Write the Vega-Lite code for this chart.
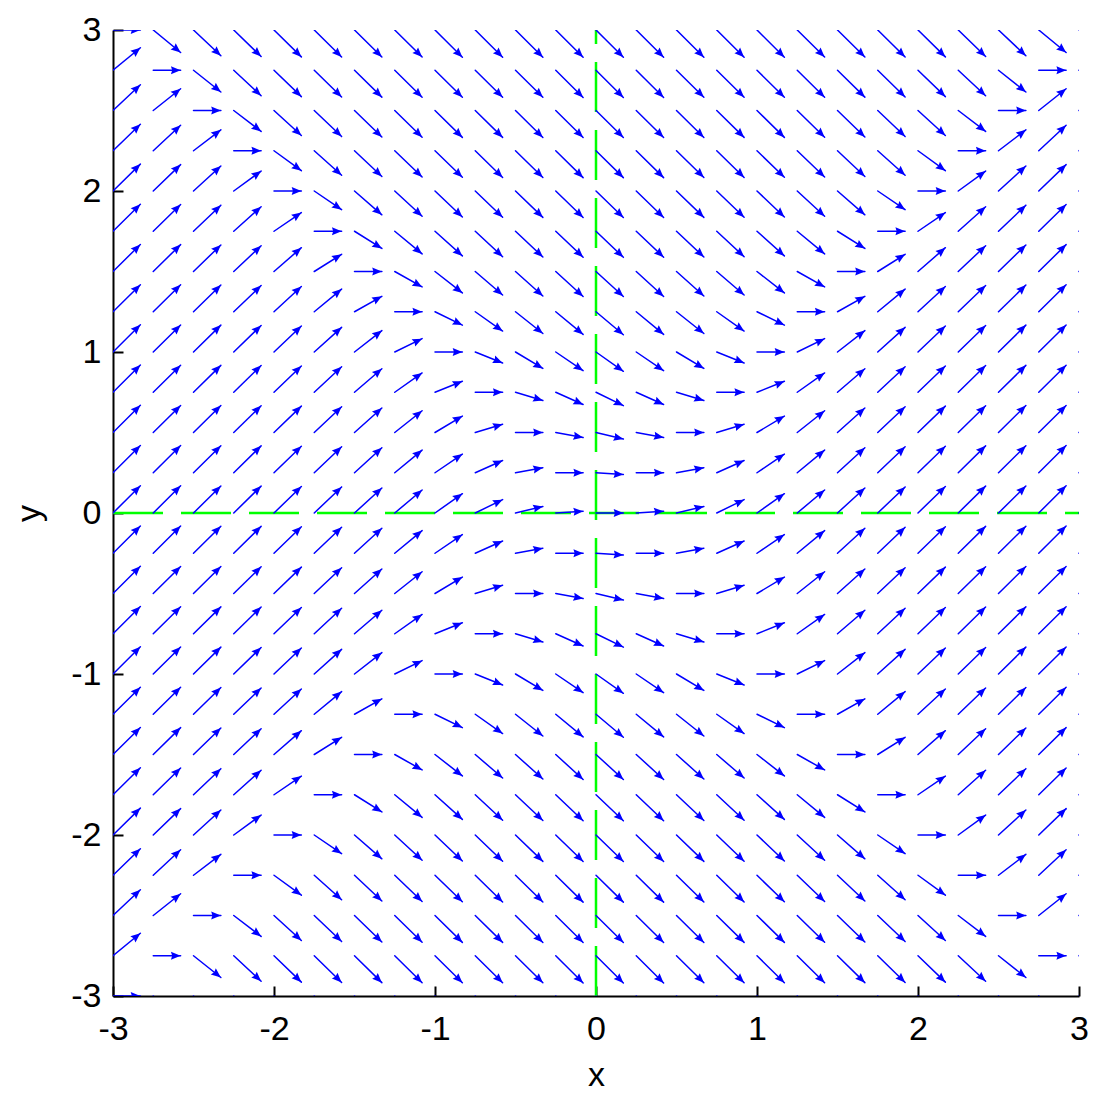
{
"$schema":"https://vega.github.io/schema/vega-lite/v6.json",
"width":966,"height":966,
"autosize":"none",
"padding":{"left":113,"top":30,"right":14,"bottom":98},
"background":"white",
"config":{"view":{"stroke":null},
"axis":{"domainColor":"#000","domainWidth":2,"tickColor":"#000","tickWidth":2,"tickSize":-10,"labelFont":"Liberation Sans","labelFontSize":34,"labelColor":"#000","labelFlush":false,"labelOverlap":false,"grid":false,"titleFont":"Liberation Sans","titleFontSize":34,"titleFontWeight":"normal","titleColor":"#000"},
"axisX":{"labelPadding":26,"titlePadding":12},
"axisY":{"labelPadding":22,"titlePadding":24}},
"data":{"values":[
{"x":-3,"y":3,"u":-2.83,"v":3,"d":0},{"x":-2.75,"y":3,"u":-2.58,"v":2.86,"d":-39.4},{"x":-2.5,"y":3,"u":-2.33,"v":2.84,"d":-43.2},{"x":-2.25,"y":3,"u":-2.08,"v":2.835,"d":-44.1},{"x":-2,"y":3,"u":-1.83,"v":2.833,"d":-44.4},{"x":-1.75,"y":3,"u":-1.58,"v":2.832,"d":-44.6},{"x":-1.5,"y":3,"u":-1.33,"v":2.832,"d":-44.7},{"x":-1.25,"y":3,"u":-1.08,"v":2.832,"d":-44.7},{"x":-1,"y":3,"u":-0.83,"v":2.831,"d":-44.8},{"x":-0.75,"y":3,"u":-0.58,"v":2.831,"d":-44.8},{"x":-0.5,"y":3,"u":-0.33,"v":2.831,"d":-44.8},{"x":-0.25,"y":3,"u":-0.08,"v":2.831,"d":-44.8},{"x":0,"y":3,"u":0.17,"v":2.831,"d":-44.8},{"x":0.25,"y":3,"u":0.42,"v":2.831,"d":-44.8},{"x":0.5,"y":3,"u":0.67,"v":2.831,"d":-44.8},{"x":0.75,"y":3,"u":0.92,"v":2.831,"d":-44.8},{"x":1,"y":3,"u":1.17,"v":2.831,"d":-44.8},{"x":1.25,"y":3,"u":1.42,"v":2.832,"d":-44.7},{"x":1.5,"y":3,"u":1.67,"v":2.832,"d":-44.7},{"x":1.75,"y":3,"u":1.92,"v":2.832,"d":-44.6},{"x":2,"y":3,"u":2.17,"v":2.833,"d":-44.4},{"x":2.25,"y":3,"u":2.42,"v":2.835,"d":-44.1},{"x":2.5,"y":3,"u":2.67,"v":2.84,"d":-43.2},{"x":2.75,"y":3,"u":2.92,"v":2.86,"d":-39.4},{"x":3,"y":3,"u":3.17,"v":3,"d":0},
{"x":-3,"y":2.75,"u":-2.83,"v":2.89,"d":39.4},{"x":-2.75,"y":2.75,"u":-2.58,"v":2.75,"d":0},{"x":-2.5,"y":2.75,"u":-2.33,"v":2.615,"d":-38.5},{"x":-2.25,"y":2.75,"u":-2.08,"v":2.592,"d":-42.9},{"x":-2,"y":2.75,"u":-1.83,"v":2.586,"d":-43.9},{"x":-1.75,"y":2.75,"u":-1.58,"v":2.584,"d":-44.3},{"x":-1.5,"y":2.75,"u":-1.33,"v":2.583,"d":-44.5},{"x":-1.25,"y":2.75,"u":-1.08,"v":2.582,"d":-44.6},{"x":-1,"y":2.75,"u":-0.83,"v":2.582,"d":-44.7},{"x":-0.75,"y":2.75,"u":-0.58,"v":2.582,"d":-44.7},{"x":-0.5,"y":2.75,"u":-0.33,"v":2.582,"d":-44.7},{"x":-0.25,"y":2.75,"u":-0.08,"v":2.581,"d":-44.7},{"x":0,"y":2.75,"u":0.17,"v":2.581,"d":-44.8},{"x":0.25,"y":2.75,"u":0.42,"v":2.581,"d":-44.7},{"x":0.5,"y":2.75,"u":0.67,"v":2.582,"d":-44.7},{"x":0.75,"y":2.75,"u":0.92,"v":2.582,"d":-44.7},{"x":1,"y":2.75,"u":1.17,"v":2.582,"d":-44.7},{"x":1.25,"y":2.75,"u":1.42,"v":2.582,"d":-44.6},{"x":1.5,"y":2.75,"u":1.67,"v":2.583,"d":-44.5},{"x":1.75,"y":2.75,"u":1.92,"v":2.584,"d":-44.3},{"x":2,"y":2.75,"u":2.17,"v":2.586,"d":-43.9},{"x":2.25,"y":2.75,"u":2.42,"v":2.592,"d":-42.9},{"x":2.5,"y":2.75,"u":2.67,"v":2.615,"d":-38.5},{"x":2.75,"y":2.75,"u":2.92,"v":2.75,"d":0},{"x":3,"y":2.75,"u":3.17,"v":2.89,"d":39.4},
{"x":-3,"y":2.5,"u":-2.83,"v":2.66,"d":43.2},{"x":-2.75,"y":2.5,"u":-2.58,"v":2.635,"d":38.5},{"x":-2.5,"y":2.5,"u":-2.33,"v":2.5,"d":0},{"x":-2.25,"y":2.5,"u":-2.08,"v":2.37,"d":-37.4},{"x":-2,"y":2.5,"u":-1.83,"v":2.345,"d":-42.4},{"x":-1.75,"y":2.5,"u":-1.58,"v":2.338,"d":-43.7},{"x":-1.5,"y":2.5,"u":-1.33,"v":2.335,"d":-44.1},{"x":-1.25,"y":2.5,"u":-1.08,"v":2.334,"d":-44.4},{"x":-1,"y":2.5,"u":-0.83,"v":2.333,"d":-44.5},{"x":-0.75,"y":2.5,"u":-0.58,"v":2.333,"d":-44.6},{"x":-0.5,"y":2.5,"u":-0.33,"v":2.332,"d":-44.6},{"x":-0.25,"y":2.5,"u":-0.08,"v":2.332,"d":-44.6},{"x":0,"y":2.5,"u":0.17,"v":2.332,"d":-44.6},{"x":0.25,"y":2.5,"u":0.42,"v":2.332,"d":-44.6},{"x":0.5,"y":2.5,"u":0.67,"v":2.332,"d":-44.6},{"x":0.75,"y":2.5,"u":0.92,"v":2.333,"d":-44.6},{"x":1,"y":2.5,"u":1.17,"v":2.333,"d":-44.5},{"x":1.25,"y":2.5,"u":1.42,"v":2.334,"d":-44.4},{"x":1.5,"y":2.5,"u":1.67,"v":2.335,"d":-44.1},{"x":1.75,"y":2.5,"u":1.92,"v":2.338,"d":-43.7},{"x":2,"y":2.5,"u":2.17,"v":2.345,"d":-42.4},{"x":2.25,"y":2.5,"u":2.42,"v":2.37,"d":-37.4},{"x":2.5,"y":2.5,"u":2.67,"v":2.5,"d":0},{"x":2.75,"y":2.5,"u":2.92,"v":2.635,"d":38.5},{"x":3,"y":2.5,"u":3.17,"v":2.66,"d":43.2},
{"x":-3,"y":2.25,"u":-2.83,"v":2.415,"d":44.1},{"x":-2.75,"y":2.25,"u":-2.58,"v":2.408,"d":42.9},{"x":-2.5,"y":2.25,"u":-2.33,"v":2.38,"d":37.4},{"x":-2.25,"y":2.25,"u":-2.08,"v":2.25,"d":0},{"x":-2,"y":2.25,"u":-1.83,"v":2.126,"d":-36.1},{"x":-1.75,"y":2.25,"u":-1.58,"v":2.098,"d":-41.8},{"x":-1.5,"y":2.25,"u":-1.33,"v":2.09,"d":-43.3},{"x":-1.25,"y":2.25,"u":-1.08,"v":2.087,"d":-43.9},{"x":-1,"y":2.25,"u":-0.83,"v":2.085,"d":-44.2},{"x":-0.75,"y":2.25,"u":-0.58,"v":2.084,"d":-44.3},{"x":-0.5,"y":2.25,"u":-0.33,"v":2.084,"d":-44.4},{"x":-0.25,"y":2.25,"u":-0.08,"v":2.083,"d":-44.4},{"x":0,"y":2.25,"u":0.17,"v":2.083,"d":-44.5},{"x":0.25,"y":2.25,"u":0.42,"v":2.083,"d":-44.4},{"x":0.5,"y":2.25,"u":0.67,"v":2.084,"d":-44.4},{"x":0.75,"y":2.25,"u":0.92,"v":2.084,"d":-44.3},{"x":1,"y":2.25,"u":1.17,"v":2.085,"d":-44.2},{"x":1.25,"y":2.25,"u":1.42,"v":2.087,"d":-43.9},{"x":1.5,"y":2.25,"u":1.67,"v":2.09,"d":-43.3},{"x":1.75,"y":2.25,"u":1.92,"v":2.098,"d":-41.8},{"x":2,"y":2.25,"u":2.17,"v":2.126,"d":-36.1},{"x":2.25,"y":2.25,"u":2.42,"v":2.25,"d":0},{"x":2.5,"y":2.25,"u":2.67,"v":2.38,"d":37.4},{"x":2.75,"y":2.25,"u":2.92,"v":2.408,"d":42.9},{"x":3,"y":2.25,"u":3.17,"v":2.415,"d":44.1},
{"x":-3,"y":2,"u":-2.83,"v":2.167,"d":44.4},{"x":-2.75,"y":2,"u":-2.58,"v":2.164,"d":43.9},{"x":-2.5,"y":2,"u":-2.33,"v":2.155,"d":42.4},{"x":-2.25,"y":2,"u":-2.08,"v":2.124,"d":36.1},{"x":-2,"y":2,"u":-1.83,"v":2,"d":0},{"x":-1.75,"y":2,"u":-1.58,"v":1.884,"d":-34.4},{"x":-1.5,"y":2,"u":-1.33,"v":1.852,"d":-41},{"x":-1.25,"y":2,"u":-1.08,"v":1.843,"d":-42.8},{"x":-1,"y":2,"u":-0.83,"v":1.839,"d":-43.5},{"x":-0.75,"y":2,"u":-0.58,"v":1.837,"d":-43.8},{"x":-0.5,"y":2,"u":-0.33,"v":1.836,"d":-44},{"x":-0.25,"y":2,"u":-0.08,"v":1.835,"d":-44.1},{"x":0,"y":2,"u":0.17,"v":1.835,"d":-44.1},{"x":0.25,"y":2,"u":0.42,"v":1.835,"d":-44.1},{"x":0.5,"y":2,"u":0.67,"v":1.836,"d":-44},{"x":0.75,"y":2,"u":0.92,"v":1.837,"d":-43.8},{"x":1,"y":2,"u":1.17,"v":1.839,"d":-43.5},{"x":1.25,"y":2,"u":1.42,"v":1.843,"d":-42.8},{"x":1.5,"y":2,"u":1.67,"v":1.852,"d":-41},{"x":1.75,"y":2,"u":1.92,"v":1.884,"d":-34.4},{"x":2,"y":2,"u":2.17,"v":2,"d":0},{"x":2.25,"y":2,"u":2.42,"v":2.124,"d":36.1},{"x":2.5,"y":2,"u":2.67,"v":2.155,"d":42.4},{"x":2.75,"y":2,"u":2.92,"v":2.164,"d":43.9},{"x":3,"y":2,"u":3.17,"v":2.167,"d":44.4},
{"x":-3,"y":1.75,"u":-2.83,"v":1.918,"d":44.6},{"x":-2.75,"y":1.75,"u":-2.58,"v":1.916,"d":44.3},{"x":-2.5,"y":1.75,"u":-2.33,"v":1.912,"d":43.7},{"x":-2.25,"y":1.75,"u":-2.08,"v":1.902,"d":41.8},{"x":-2,"y":1.75,"u":-1.83,"v":1.866,"d":34.4},{"x":-1.75,"y":1.75,"u":-1.58,"v":1.75,"d":0},{"x":-1.5,"y":1.75,"u":-1.33,"v":1.643,"d":-32.2},{"x":-1.25,"y":1.75,"u":-1.08,"v":1.609,"d":-39.8},{"x":-1,"y":1.75,"u":-0.83,"v":1.597,"d":-42},{"x":-0.75,"y":1.75,"u":-0.58,"v":1.592,"d":-42.9},{"x":-0.5,"y":1.75,"u":-0.33,"v":1.59,"d":-43.3},{"x":-0.25,"y":1.75,"u":-0.08,"v":1.589,"d":-43.5},{"x":0,"y":1.75,"u":0.17,"v":1.588,"d":-43.5},{"x":0.25,"y":1.75,"u":0.42,"v":1.589,"d":-43.5},{"x":0.5,"y":1.75,"u":0.67,"v":1.59,"d":-43.3},{"x":0.75,"y":1.75,"u":0.92,"v":1.592,"d":-42.9},{"x":1,"y":1.75,"u":1.17,"v":1.597,"d":-42},{"x":1.25,"y":1.75,"u":1.42,"v":1.609,"d":-39.8},{"x":1.5,"y":1.75,"u":1.67,"v":1.643,"d":-32.2},{"x":1.75,"y":1.75,"u":1.92,"v":1.75,"d":0},{"x":2,"y":1.75,"u":2.17,"v":1.866,"d":34.4},{"x":2.25,"y":1.75,"u":2.42,"v":1.902,"d":41.8},{"x":2.5,"y":1.75,"u":2.67,"v":1.912,"d":43.7},{"x":2.75,"y":1.75,"u":2.92,"v":1.916,"d":44.3},{"x":3,"y":1.75,"u":3.17,"v":1.918,"d":44.6},
{"x":-3,"y":1.5,"u":-2.83,"v":1.668,"d":44.7},{"x":-2.75,"y":1.5,"u":-2.58,"v":1.667,"d":44.5},{"x":-2.5,"y":1.5,"u":-2.33,"v":1.665,"d":44.1},{"x":-2.25,"y":1.5,"u":-2.08,"v":1.66,"d":43.3},{"x":-2,"y":1.5,"u":-1.83,"v":1.648,"d":41},{"x":-1.75,"y":1.5,"u":-1.58,"v":1.607,"d":32.2},{"x":-1.5,"y":1.5,"u":-1.33,"v":1.5,"d":0},{"x":-1.25,"y":1.5,"u":-1.08,"v":1.404,"d":-29.5},{"x":-1,"y":1.5,"u":-0.83,"v":1.367,"d":-38},{"x":-0.75,"y":1.5,"u":-0.58,"v":1.354,"d":-40.7},{"x":-0.5,"y":1.5,"u":-0.33,"v":1.348,"d":-41.8},{"x":-0.25,"y":1.5,"u":-0.08,"v":1.345,"d":-42.3},{"x":0,"y":1.5,"u":0.17,"v":1.345,"d":-42.4},{"x":0.25,"y":1.5,"u":0.42,"v":1.345,"d":-42.3},{"x":0.5,"y":1.5,"u":0.67,"v":1.348,"d":-41.8},{"x":0.75,"y":1.5,"u":0.92,"v":1.354,"d":-40.7},{"x":1,"y":1.5,"u":1.17,"v":1.367,"d":-38},{"x":1.25,"y":1.5,"u":1.42,"v":1.404,"d":-29.5},{"x":1.5,"y":1.5,"u":1.67,"v":1.5,"d":0},{"x":1.75,"y":1.5,"u":1.92,"v":1.607,"d":32.2},{"x":2,"y":1.5,"u":2.17,"v":1.648,"d":41},{"x":2.25,"y":1.5,"u":2.42,"v":1.66,"d":43.3},{"x":2.5,"y":1.5,"u":2.67,"v":1.665,"d":44.1},{"x":2.75,"y":1.5,"u":2.92,"v":1.667,"d":44.5},{"x":3,"y":1.5,"u":3.17,"v":1.668,"d":44.7},
{"x":-3,"y":1.25,"u":-2.83,"v":1.418,"d":44.7},{"x":-2.75,"y":1.25,"u":-2.58,"v":1.418,"d":44.6},{"x":-2.5,"y":1.25,"u":-2.33,"v":1.416,"d":44.4},{"x":-2.25,"y":1.25,"u":-2.08,"v":1.413,"d":43.9},{"x":-2,"y":1.25,"u":-1.83,"v":1.407,"d":42.8},{"x":-1.75,"y":1.25,"u":-1.58,"v":1.391,"d":39.8},{"x":-1.5,"y":1.25,"u":-1.33,"v":1.346,"d":29.5},{"x":-1.25,"y":1.25,"u":-1.08,"v":1.25,"d":0},{"x":-1,"y":1.25,"u":-0.83,"v":1.167,"d":-26.1},{"x":-0.75,"y":1.25,"u":-0.58,"v":1.13,"d":-35.3},{"x":-0.5,"y":1.25,"u":-0.33,"v":1.115,"d":-38.5},{"x":-0.25,"y":1.25,"u":-0.08,"v":1.109,"d":-39.8},{"x":0,"y":1.25,"u":0.17,"v":1.107,"d":-40.1},{"x":0.25,"y":1.25,"u":0.42,"v":1.109,"d":-39.8},{"x":0.5,"y":1.25,"u":0.67,"v":1.115,"d":-38.5},{"x":0.75,"y":1.25,"u":0.92,"v":1.13,"d":-35.3},{"x":1,"y":1.25,"u":1.17,"v":1.167,"d":-26.1},{"x":1.25,"y":1.25,"u":1.42,"v":1.25,"d":0},{"x":1.5,"y":1.25,"u":1.67,"v":1.346,"d":29.5},{"x":1.75,"y":1.25,"u":1.92,"v":1.391,"d":39.8},{"x":2,"y":1.25,"u":2.17,"v":1.407,"d":42.8},{"x":2.25,"y":1.25,"u":2.42,"v":1.413,"d":43.9},{"x":2.5,"y":1.25,"u":2.67,"v":1.416,"d":44.4},{"x":2.75,"y":1.25,"u":2.92,"v":1.418,"d":44.6},{"x":3,"y":1.25,"u":3.17,"v":1.418,"d":44.7},
{"x":-3,"y":1,"u":-2.83,"v":1.169,"d":44.8},{"x":-2.75,"y":1,"u":-2.58,"v":1.168,"d":44.7},{"x":-2.5,"y":1,"u":-2.33,"v":1.167,"d":44.5},{"x":-2.25,"y":1,"u":-2.08,"v":1.165,"d":44.2},{"x":-2,"y":1,"u":-1.83,"v":1.161,"d":43.5},{"x":-1.75,"y":1,"u":-1.58,"v":1.153,"d":42},{"x":-1.5,"y":1,"u":-1.33,"v":1.133,"d":38},{"x":-1.25,"y":1,"u":-1.08,"v":1.083,"d":26.1},{"x":-1,"y":1,"u":-0.83,"v":1,"d":0},{"x":-0.75,"y":1,"u":-0.58,"v":0.932,"d":-21.8},{"x":-0.5,"y":1,"u":-0.33,"v":0.898,"d":-31},{"x":-0.25,"y":1,"u":-0.08,"v":0.884,"d":-34.4},{"x":0,"y":1,"u":0.17,"v":0.88,"d":-35.3},{"x":0.25,"y":1,"u":0.42,"v":0.884,"d":-34.4},{"x":0.5,"y":1,"u":0.67,"v":0.898,"d":-31},{"x":0.75,"y":1,"u":0.92,"v":0.932,"d":-21.8},{"x":1,"y":1,"u":1.17,"v":1,"d":0},{"x":1.25,"y":1,"u":1.42,"v":1.083,"d":26.1},{"x":1.5,"y":1,"u":1.67,"v":1.133,"d":38},{"x":1.75,"y":1,"u":1.92,"v":1.153,"d":42},{"x":2,"y":1,"u":2.17,"v":1.161,"d":43.5},{"x":2.25,"y":1,"u":2.42,"v":1.165,"d":44.2},{"x":2.5,"y":1,"u":2.67,"v":1.167,"d":44.5},{"x":2.75,"y":1,"u":2.92,"v":1.168,"d":44.7},{"x":3,"y":1,"u":3.17,"v":1.169,"d":44.8},
{"x":-3,"y":0.75,"u":-2.83,"v":0.919,"d":44.8},{"x":-2.75,"y":0.75,"u":-2.58,"v":0.918,"d":44.7},{"x":-2.5,"y":0.75,"u":-2.33,"v":0.917,"d":44.6},{"x":-2.25,"y":0.75,"u":-2.08,"v":0.916,"d":44.3},{"x":-2,"y":0.75,"u":-1.83,"v":0.913,"d":43.8},{"x":-1.75,"y":0.75,"u":-1.58,"v":0.908,"d":42.9},{"x":-1.5,"y":0.75,"u":-1.33,"v":0.896,"d":40.7},{"x":-1.25,"y":0.75,"u":-1.08,"v":0.87,"d":35.3},{"x":-1,"y":0.75,"u":-0.83,"v":0.818,"d":21.8},{"x":-0.75,"y":0.75,"u":-0.58,"v":0.75,"d":0},{"x":-0.5,"y":0.75,"u":-0.33,"v":0.699,"d":-16.6},{"x":-0.25,"y":0.75,"u":-0.08,"v":0.674,"d":-24.1},{"x":0,"y":0.75,"u":0.17,"v":0.667,"d":-26.1},{"x":0.25,"y":0.75,"u":0.42,"v":0.674,"d":-24.1},{"x":0.5,"y":0.75,"u":0.67,"v":0.699,"d":-16.6},{"x":0.75,"y":0.75,"u":0.92,"v":0.75,"d":0},{"x":1,"y":0.75,"u":1.17,"v":0.818,"d":21.8},{"x":1.25,"y":0.75,"u":1.42,"v":0.87,"d":35.3},{"x":1.5,"y":0.75,"u":1.67,"v":0.896,"d":40.7},{"x":1.75,"y":0.75,"u":1.92,"v":0.908,"d":42.9},{"x":2,"y":0.75,"u":2.17,"v":0.913,"d":43.8},{"x":2.25,"y":0.75,"u":2.42,"v":0.916,"d":44.3},{"x":2.5,"y":0.75,"u":2.67,"v":0.917,"d":44.6},{"x":2.75,"y":0.75,"u":2.92,"v":0.918,"d":44.7},{"x":3,"y":0.75,"u":3.17,"v":0.919,"d":44.8},
{"x":-3,"y":0.5,"u":-2.83,"v":0.669,"d":44.8},{"x":-2.75,"y":0.5,"u":-2.58,"v":0.668,"d":44.7},{"x":-2.5,"y":0.5,"u":-2.33,"v":0.668,"d":44.6},{"x":-2.25,"y":0.5,"u":-2.08,"v":0.666,"d":44.4},{"x":-2,"y":0.5,"u":-1.83,"v":0.664,"d":44},{"x":-1.75,"y":0.5,"u":-1.58,"v":0.66,"d":43.3},{"x":-1.5,"y":0.5,"u":-1.33,"v":0.652,"d":41.8},{"x":-1.25,"y":0.5,"u":-1.08,"v":0.635,"d":38.5},{"x":-1,"y":0.5,"u":-0.83,"v":0.602,"d":31},{"x":-0.75,"y":0.5,"u":-0.58,"v":0.551,"d":16.6},{"x":-0.5,"y":0.5,"u":-0.33,"v":0.5,"d":0},{"x":-0.25,"y":0.5,"u":-0.08,"v":0.469,"d":-10.4},{"x":0,"y":0.5,"u":0.17,"v":0.459,"d":-13.6},{"x":0.25,"y":0.5,"u":0.42,"v":0.469,"d":-10.4},{"x":0.5,"y":0.5,"u":0.67,"v":0.5,"d":0},{"x":0.75,"y":0.5,"u":0.92,"v":0.551,"d":16.6},{"x":1,"y":0.5,"u":1.17,"v":0.602,"d":31},{"x":1.25,"y":0.5,"u":1.42,"v":0.635,"d":38.5},{"x":1.5,"y":0.5,"u":1.67,"v":0.652,"d":41.8},{"x":1.75,"y":0.5,"u":1.92,"v":0.66,"d":43.3},{"x":2,"y":0.5,"u":2.17,"v":0.664,"d":44},{"x":2.25,"y":0.5,"u":2.42,"v":0.666,"d":44.4},{"x":2.5,"y":0.5,"u":2.67,"v":0.668,"d":44.6},{"x":2.75,"y":0.5,"u":2.92,"v":0.668,"d":44.7},{"x":3,"y":0.5,"u":3.17,"v":0.669,"d":44.8},
{"x":-3,"y":0.25,"u":-2.83,"v":0.419,"d":44.8},{"x":-2.75,"y":0.25,"u":-2.58,"v":0.419,"d":44.7},{"x":-2.5,"y":0.25,"u":-2.33,"v":0.418,"d":44.6},{"x":-2.25,"y":0.25,"u":-2.08,"v":0.417,"d":44.4},{"x":-2,"y":0.25,"u":-1.83,"v":0.415,"d":44.1},{"x":-1.75,"y":0.25,"u":-1.58,"v":0.411,"d":43.5},{"x":-1.5,"y":0.25,"u":-1.33,"v":0.405,"d":42.3},{"x":-1.25,"y":0.25,"u":-1.08,"v":0.391,"d":39.8},{"x":-1,"y":0.25,"u":-0.83,"v":0.366,"d":34.4},{"x":-0.75,"y":0.25,"u":-0.58,"v":0.326,"d":24.1},{"x":-0.5,"y":0.25,"u":-0.33,"v":0.281,"d":10.4},{"x":-0.25,"y":0.25,"u":-0.08,"v":0.25,"d":0},{"x":0,"y":0.25,"u":0.17,"v":0.239,"d":-3.6},{"x":0.25,"y":0.25,"u":0.42,"v":0.25,"d":0},{"x":0.5,"y":0.25,"u":0.67,"v":0.281,"d":10.4},{"x":0.75,"y":0.25,"u":0.92,"v":0.326,"d":24.1},{"x":1,"y":0.25,"u":1.17,"v":0.366,"d":34.4},{"x":1.25,"y":0.25,"u":1.42,"v":0.391,"d":39.8},{"x":1.5,"y":0.25,"u":1.67,"v":0.405,"d":42.3},{"x":1.75,"y":0.25,"u":1.92,"v":0.411,"d":43.5},{"x":2,"y":0.25,"u":2.17,"v":0.415,"d":44.1},{"x":2.25,"y":0.25,"u":2.42,"v":0.417,"d":44.4},{"x":2.5,"y":0.25,"u":2.67,"v":0.418,"d":44.6},{"x":2.75,"y":0.25,"u":2.92,"v":0.419,"d":44.7},{"x":3,"y":0.25,"u":3.17,"v":0.419,"d":44.8},
{"x":-3,"y":0,"u":-2.83,"v":0.169,"d":44.8},{"x":-2.75,"y":0,"u":-2.58,"v":0.169,"d":44.8},{"x":-2.5,"y":0,"u":-2.33,"v":0.168,"d":44.6},{"x":-2.25,"y":0,"u":-2.08,"v":0.167,"d":44.5},{"x":-2,"y":0,"u":-1.83,"v":0.165,"d":44.1},{"x":-1.75,"y":0,"u":-1.58,"v":0.162,"d":43.5},{"x":-1.5,"y":0,"u":-1.33,"v":0.155,"d":42.4},{"x":-1.25,"y":0,"u":-1.08,"v":0.143,"d":40.1},{"x":-1,"y":0,"u":-0.83,"v":0.12,"d":35.3},{"x":-0.75,"y":0,"u":-0.58,"v":0.083,"d":26.1},{"x":-0.5,"y":0,"u":-0.33,"v":0.041,"d":13.6},{"x":-0.25,"y":0,"u":-0.08,"v":0.011,"d":3.6},{"x":0,"y":0,"u":0.17,"v":0,"d":0},{"x":0.25,"y":0,"u":0.42,"v":0.011,"d":3.6},{"x":0.5,"y":0,"u":0.67,"v":0.041,"d":13.6},{"x":0.75,"y":0,"u":0.92,"v":0.083,"d":26.1},{"x":1,"y":0,"u":1.17,"v":0.12,"d":35.3},{"x":1.25,"y":0,"u":1.42,"v":0.143,"d":40.1},{"x":1.5,"y":0,"u":1.67,"v":0.155,"d":42.4},{"x":1.75,"y":0,"u":1.92,"v":0.162,"d":43.5},{"x":2,"y":0,"u":2.17,"v":0.165,"d":44.1},{"x":2.25,"y":0,"u":2.42,"v":0.167,"d":44.5},{"x":2.5,"y":0,"u":2.67,"v":0.168,"d":44.6},{"x":2.75,"y":0,"u":2.92,"v":0.169,"d":44.8},{"x":3,"y":0,"u":3.17,"v":0.169,"d":44.8},
{"x":-3,"y":-0.25,"u":-2.83,"v":-0.081,"d":44.8},{"x":-2.75,"y":-0.25,"u":-2.58,"v":-0.081,"d":44.7},{"x":-2.5,"y":-0.25,"u":-2.33,"v":-0.082,"d":44.6},{"x":-2.25,"y":-0.25,"u":-2.08,"v":-0.083,"d":44.4},{"x":-2,"y":-0.25,"u":-1.83,"v":-0.085,"d":44.1},{"x":-1.75,"y":-0.25,"u":-1.58,"v":-0.089,"d":43.5},{"x":-1.5,"y":-0.25,"u":-1.33,"v":-0.095,"d":42.3},{"x":-1.25,"y":-0.25,"u":-1.08,"v":-0.109,"d":39.8},{"x":-1,"y":-0.25,"u":-0.83,"v":-0.134,"d":34.4},{"x":-0.75,"y":-0.25,"u":-0.58,"v":-0.174,"d":24.1},{"x":-0.5,"y":-0.25,"u":-0.33,"v":-0.219,"d":10.4},{"x":-0.25,"y":-0.25,"u":-0.08,"v":-0.25,"d":0},{"x":0,"y":-0.25,"u":0.17,"v":-0.261,"d":-3.6},{"x":0.25,"y":-0.25,"u":0.42,"v":-0.25,"d":0},{"x":0.5,"y":-0.25,"u":0.67,"v":-0.219,"d":10.4},{"x":0.75,"y":-0.25,"u":0.92,"v":-0.174,"d":24.1},{"x":1,"y":-0.25,"u":1.17,"v":-0.134,"d":34.4},{"x":1.25,"y":-0.25,"u":1.42,"v":-0.109,"d":39.8},{"x":1.5,"y":-0.25,"u":1.67,"v":-0.095,"d":42.3},{"x":1.75,"y":-0.25,"u":1.92,"v":-0.089,"d":43.5},{"x":2,"y":-0.25,"u":2.17,"v":-0.085,"d":44.1},{"x":2.25,"y":-0.25,"u":2.42,"v":-0.083,"d":44.4},{"x":2.5,"y":-0.25,"u":2.67,"v":-0.082,"d":44.6},{"x":2.75,"y":-0.25,"u":2.92,"v":-0.081,"d":44.7},{"x":3,"y":-0.25,"u":3.17,"v":-0.081,"d":44.8},
{"x":-3,"y":-0.5,"u":-2.83,"v":-0.331,"d":44.8},{"x":-2.75,"y":-0.5,"u":-2.58,"v":-0.332,"d":44.7},{"x":-2.5,"y":-0.5,"u":-2.33,"v":-0.332,"d":44.6},{"x":-2.25,"y":-0.5,"u":-2.08,"v":-0.334,"d":44.4},{"x":-2,"y":-0.5,"u":-1.83,"v":-0.336,"d":44},{"x":-1.75,"y":-0.5,"u":-1.58,"v":-0.34,"d":43.3},{"x":-1.5,"y":-0.5,"u":-1.33,"v":-0.348,"d":41.8},{"x":-1.25,"y":-0.5,"u":-1.08,"v":-0.365,"d":38.5},{"x":-1,"y":-0.5,"u":-0.83,"v":-0.398,"d":31},{"x":-0.75,"y":-0.5,"u":-0.58,"v":-0.449,"d":16.6},{"x":-0.5,"y":-0.5,"u":-0.33,"v":-0.5,"d":0},{"x":-0.25,"y":-0.5,"u":-0.08,"v":-0.531,"d":-10.4},{"x":0,"y":-0.5,"u":0.17,"v":-0.541,"d":-13.6},{"x":0.25,"y":-0.5,"u":0.42,"v":-0.531,"d":-10.4},{"x":0.5,"y":-0.5,"u":0.67,"v":-0.5,"d":0},{"x":0.75,"y":-0.5,"u":0.92,"v":-0.449,"d":16.6},{"x":1,"y":-0.5,"u":1.17,"v":-0.398,"d":31},{"x":1.25,"y":-0.5,"u":1.42,"v":-0.365,"d":38.5},{"x":1.5,"y":-0.5,"u":1.67,"v":-0.348,"d":41.8},{"x":1.75,"y":-0.5,"u":1.92,"v":-0.34,"d":43.3},{"x":2,"y":-0.5,"u":2.17,"v":-0.336,"d":44},{"x":2.25,"y":-0.5,"u":2.42,"v":-0.334,"d":44.4},{"x":2.5,"y":-0.5,"u":2.67,"v":-0.332,"d":44.6},{"x":2.75,"y":-0.5,"u":2.92,"v":-0.332,"d":44.7},{"x":3,"y":-0.5,"u":3.17,"v":-0.331,"d":44.8},
{"x":-3,"y":-0.75,"u":-2.83,"v":-0.581,"d":44.8},{"x":-2.75,"y":-0.75,"u":-2.58,"v":-0.582,"d":44.7},{"x":-2.5,"y":-0.75,"u":-2.33,"v":-0.583,"d":44.6},{"x":-2.25,"y":-0.75,"u":-2.08,"v":-0.584,"d":44.3},{"x":-2,"y":-0.75,"u":-1.83,"v":-0.587,"d":43.8},{"x":-1.75,"y":-0.75,"u":-1.58,"v":-0.592,"d":42.9},{"x":-1.5,"y":-0.75,"u":-1.33,"v":-0.604,"d":40.7},{"x":-1.25,"y":-0.75,"u":-1.08,"v":-0.63,"d":35.3},{"x":-1,"y":-0.75,"u":-0.83,"v":-0.682,"d":21.8},{"x":-0.75,"y":-0.75,"u":-0.58,"v":-0.75,"d":0},{"x":-0.5,"y":-0.75,"u":-0.33,"v":-0.801,"d":-16.6},{"x":-0.25,"y":-0.75,"u":-0.08,"v":-0.826,"d":-24.1},{"x":0,"y":-0.75,"u":0.17,"v":-0.833,"d":-26.1},{"x":0.25,"y":-0.75,"u":0.42,"v":-0.826,"d":-24.1},{"x":0.5,"y":-0.75,"u":0.67,"v":-0.801,"d":-16.6},{"x":0.75,"y":-0.75,"u":0.92,"v":-0.75,"d":0},{"x":1,"y":-0.75,"u":1.17,"v":-0.682,"d":21.8},{"x":1.25,"y":-0.75,"u":1.42,"v":-0.63,"d":35.3},{"x":1.5,"y":-0.75,"u":1.67,"v":-0.604,"d":40.7},{"x":1.75,"y":-0.75,"u":1.92,"v":-0.592,"d":42.9},{"x":2,"y":-0.75,"u":2.17,"v":-0.587,"d":43.8},{"x":2.25,"y":-0.75,"u":2.42,"v":-0.584,"d":44.3},{"x":2.5,"y":-0.75,"u":2.67,"v":-0.583,"d":44.6},{"x":2.75,"y":-0.75,"u":2.92,"v":-0.582,"d":44.7},{"x":3,"y":-0.75,"u":3.17,"v":-0.581,"d":44.8},
{"x":-3,"y":-1,"u":-2.83,"v":-0.831,"d":44.8},{"x":-2.75,"y":-1,"u":-2.58,"v":-0.832,"d":44.7},{"x":-2.5,"y":-1,"u":-2.33,"v":-0.833,"d":44.5},{"x":-2.25,"y":-1,"u":-2.08,"v":-0.835,"d":44.2},{"x":-2,"y":-1,"u":-1.83,"v":-0.839,"d":43.5},{"x":-1.75,"y":-1,"u":-1.58,"v":-0.847,"d":42},{"x":-1.5,"y":-1,"u":-1.33,"v":-0.867,"d":38},{"x":-1.25,"y":-1,"u":-1.08,"v":-0.917,"d":26.1},{"x":-1,"y":-1,"u":-0.83,"v":-1,"d":0},{"x":-0.75,"y":-1,"u":-0.58,"v":-1.068,"d":-21.8},{"x":-0.5,"y":-1,"u":-0.33,"v":-1.102,"d":-31},{"x":-0.25,"y":-1,"u":-0.08,"v":-1.116,"d":-34.4},{"x":0,"y":-1,"u":0.17,"v":-1.12,"d":-35.3},{"x":0.25,"y":-1,"u":0.42,"v":-1.116,"d":-34.4},{"x":0.5,"y":-1,"u":0.67,"v":-1.102,"d":-31},{"x":0.75,"y":-1,"u":0.92,"v":-1.068,"d":-21.8},{"x":1,"y":-1,"u":1.17,"v":-1,"d":0},{"x":1.25,"y":-1,"u":1.42,"v":-0.917,"d":26.1},{"x":1.5,"y":-1,"u":1.67,"v":-0.867,"d":38},{"x":1.75,"y":-1,"u":1.92,"v":-0.847,"d":42},{"x":2,"y":-1,"u":2.17,"v":-0.839,"d":43.5},{"x":2.25,"y":-1,"u":2.42,"v":-0.835,"d":44.2},{"x":2.5,"y":-1,"u":2.67,"v":-0.833,"d":44.5},{"x":2.75,"y":-1,"u":2.92,"v":-0.832,"d":44.7},{"x":3,"y":-1,"u":3.17,"v":-0.831,"d":44.8},
{"x":-3,"y":-1.25,"u":-2.83,"v":-1.082,"d":44.7},{"x":-2.75,"y":-1.25,"u":-2.58,"v":-1.082,"d":44.6},{"x":-2.5,"y":-1.25,"u":-2.33,"v":-1.084,"d":44.4},{"x":-2.25,"y":-1.25,"u":-2.08,"v":-1.087,"d":43.9},{"x":-2,"y":-1.25,"u":-1.83,"v":-1.093,"d":42.8},{"x":-1.75,"y":-1.25,"u":-1.58,"v":-1.109,"d":39.8},{"x":-1.5,"y":-1.25,"u":-1.33,"v":-1.154,"d":29.5},{"x":-1.25,"y":-1.25,"u":-1.08,"v":-1.25,"d":0},{"x":-1,"y":-1.25,"u":-0.83,"v":-1.333,"d":-26.1},{"x":-0.75,"y":-1.25,"u":-0.58,"v":-1.37,"d":-35.3},{"x":-0.5,"y":-1.25,"u":-0.33,"v":-1.385,"d":-38.5},{"x":-0.25,"y":-1.25,"u":-0.08,"v":-1.391,"d":-39.8},{"x":0,"y":-1.25,"u":0.17,"v":-1.393,"d":-40.1},{"x":0.25,"y":-1.25,"u":0.42,"v":-1.391,"d":-39.8},{"x":0.5,"y":-1.25,"u":0.67,"v":-1.385,"d":-38.5},{"x":0.75,"y":-1.25,"u":0.92,"v":-1.37,"d":-35.3},{"x":1,"y":-1.25,"u":1.17,"v":-1.333,"d":-26.1},{"x":1.25,"y":-1.25,"u":1.42,"v":-1.25,"d":0},{"x":1.5,"y":-1.25,"u":1.67,"v":-1.154,"d":29.5},{"x":1.75,"y":-1.25,"u":1.92,"v":-1.109,"d":39.8},{"x":2,"y":-1.25,"u":2.17,"v":-1.093,"d":42.8},{"x":2.25,"y":-1.25,"u":2.42,"v":-1.087,"d":43.9},{"x":2.5,"y":-1.25,"u":2.67,"v":-1.084,"d":44.4},{"x":2.75,"y":-1.25,"u":2.92,"v":-1.082,"d":44.6},{"x":3,"y":-1.25,"u":3.17,"v":-1.082,"d":44.7},
{"x":-3,"y":-1.5,"u":-2.83,"v":-1.332,"d":44.7},{"x":-2.75,"y":-1.5,"u":-2.58,"v":-1.333,"d":44.5},{"x":-2.5,"y":-1.5,"u":-2.33,"v":-1.335,"d":44.1},{"x":-2.25,"y":-1.5,"u":-2.08,"v":-1.34,"d":43.3},{"x":-2,"y":-1.5,"u":-1.83,"v":-1.352,"d":41},{"x":-1.75,"y":-1.5,"u":-1.58,"v":-1.393,"d":32.2},{"x":-1.5,"y":-1.5,"u":-1.33,"v":-1.5,"d":0},{"x":-1.25,"y":-1.5,"u":-1.08,"v":-1.596,"d":-29.5},{"x":-1,"y":-1.5,"u":-0.83,"v":-1.633,"d":-38},{"x":-0.75,"y":-1.5,"u":-0.58,"v":-1.646,"d":-40.7},{"x":-0.5,"y":-1.5,"u":-0.33,"v":-1.652,"d":-41.8},{"x":-0.25,"y":-1.5,"u":-0.08,"v":-1.655,"d":-42.3},{"x":0,"y":-1.5,"u":0.17,"v":-1.655,"d":-42.4},{"x":0.25,"y":-1.5,"u":0.42,"v":-1.655,"d":-42.3},{"x":0.5,"y":-1.5,"u":0.67,"v":-1.652,"d":-41.8},{"x":0.75,"y":-1.5,"u":0.92,"v":-1.646,"d":-40.7},{"x":1,"y":-1.5,"u":1.17,"v":-1.633,"d":-38},{"x":1.25,"y":-1.5,"u":1.42,"v":-1.596,"d":-29.5},{"x":1.5,"y":-1.5,"u":1.67,"v":-1.5,"d":0},{"x":1.75,"y":-1.5,"u":1.92,"v":-1.393,"d":32.2},{"x":2,"y":-1.5,"u":2.17,"v":-1.352,"d":41},{"x":2.25,"y":-1.5,"u":2.42,"v":-1.34,"d":43.3},{"x":2.5,"y":-1.5,"u":2.67,"v":-1.335,"d":44.1},{"x":2.75,"y":-1.5,"u":2.92,"v":-1.333,"d":44.5},{"x":3,"y":-1.5,"u":3.17,"v":-1.332,"d":44.7},
{"x":-3,"y":-1.75,"u":-2.83,"v":-1.582,"d":44.6},{"x":-2.75,"y":-1.75,"u":-2.58,"v":-1.584,"d":44.3},{"x":-2.5,"y":-1.75,"u":-2.33,"v":-1.588,"d":43.7},{"x":-2.25,"y":-1.75,"u":-2.08,"v":-1.598,"d":41.8},{"x":-2,"y":-1.75,"u":-1.83,"v":-1.634,"d":34.4},{"x":-1.75,"y":-1.75,"u":-1.58,"v":-1.75,"d":0},{"x":-1.5,"y":-1.75,"u":-1.33,"v":-1.857,"d":-32.2},{"x":-1.25,"y":-1.75,"u":-1.08,"v":-1.891,"d":-39.8},{"x":-1,"y":-1.75,"u":-0.83,"v":-1.903,"d":-42},{"x":-0.75,"y":-1.75,"u":-0.58,"v":-1.908,"d":-42.9},{"x":-0.5,"y":-1.75,"u":-0.33,"v":-1.91,"d":-43.3},{"x":-0.25,"y":-1.75,"u":-0.08,"v":-1.911,"d":-43.5},{"x":0,"y":-1.75,"u":0.17,"v":-1.912,"d":-43.5},{"x":0.25,"y":-1.75,"u":0.42,"v":-1.911,"d":-43.5},{"x":0.5,"y":-1.75,"u":0.67,"v":-1.91,"d":-43.3},{"x":0.75,"y":-1.75,"u":0.92,"v":-1.908,"d":-42.9},{"x":1,"y":-1.75,"u":1.17,"v":-1.903,"d":-42},{"x":1.25,"y":-1.75,"u":1.42,"v":-1.891,"d":-39.8},{"x":1.5,"y":-1.75,"u":1.67,"v":-1.857,"d":-32.2},{"x":1.75,"y":-1.75,"u":1.92,"v":-1.75,"d":0},{"x":2,"y":-1.75,"u":2.17,"v":-1.634,"d":34.4},{"x":2.25,"y":-1.75,"u":2.42,"v":-1.598,"d":41.8},{"x":2.5,"y":-1.75,"u":2.67,"v":-1.588,"d":43.7},{"x":2.75,"y":-1.75,"u":2.92,"v":-1.584,"d":44.3},{"x":3,"y":-1.75,"u":3.17,"v":-1.582,"d":44.6},
{"x":-3,"y":-2,"u":-2.83,"v":-1.833,"d":44.4},{"x":-2.75,"y":-2,"u":-2.58,"v":-1.836,"d":43.9},{"x":-2.5,"y":-2,"u":-2.33,"v":-1.845,"d":42.4},{"x":-2.25,"y":-2,"u":-2.08,"v":-1.876,"d":36.1},{"x":-2,"y":-2,"u":-1.83,"v":-2,"d":0},{"x":-1.75,"y":-2,"u":-1.58,"v":-2.116,"d":-34.4},{"x":-1.5,"y":-2,"u":-1.33,"v":-2.148,"d":-41},{"x":-1.25,"y":-2,"u":-1.08,"v":-2.157,"d":-42.8},{"x":-1,"y":-2,"u":-0.83,"v":-2.161,"d":-43.5},{"x":-0.75,"y":-2,"u":-0.58,"v":-2.163,"d":-43.8},{"x":-0.5,"y":-2,"u":-0.33,"v":-2.164,"d":-44},{"x":-0.25,"y":-2,"u":-0.08,"v":-2.165,"d":-44.1},{"x":0,"y":-2,"u":0.17,"v":-2.165,"d":-44.1},{"x":0.25,"y":-2,"u":0.42,"v":-2.165,"d":-44.1},{"x":0.5,"y":-2,"u":0.67,"v":-2.164,"d":-44},{"x":0.75,"y":-2,"u":0.92,"v":-2.163,"d":-43.8},{"x":1,"y":-2,"u":1.17,"v":-2.161,"d":-43.5},{"x":1.25,"y":-2,"u":1.42,"v":-2.157,"d":-42.8},{"x":1.5,"y":-2,"u":1.67,"v":-2.148,"d":-41},{"x":1.75,"y":-2,"u":1.92,"v":-2.116,"d":-34.4},{"x":2,"y":-2,"u":2.17,"v":-2,"d":0},{"x":2.25,"y":-2,"u":2.42,"v":-1.876,"d":36.1},{"x":2.5,"y":-2,"u":2.67,"v":-1.845,"d":42.4},{"x":2.75,"y":-2,"u":2.92,"v":-1.836,"d":43.9},{"x":3,"y":-2,"u":3.17,"v":-1.833,"d":44.4},
{"x":-3,"y":-2.25,"u":-2.83,"v":-2.085,"d":44.1},{"x":-2.75,"y":-2.25,"u":-2.58,"v":-2.092,"d":42.9},{"x":-2.5,"y":-2.25,"u":-2.33,"v":-2.12,"d":37.4},{"x":-2.25,"y":-2.25,"u":-2.08,"v":-2.25,"d":0},{"x":-2,"y":-2.25,"u":-1.83,"v":-2.374,"d":-36.1},{"x":-1.75,"y":-2.25,"u":-1.58,"v":-2.402,"d":-41.8},{"x":-1.5,"y":-2.25,"u":-1.33,"v":-2.41,"d":-43.3},{"x":-1.25,"y":-2.25,"u":-1.08,"v":-2.413,"d":-43.9},{"x":-1,"y":-2.25,"u":-0.83,"v":-2.415,"d":-44.2},{"x":-0.75,"y":-2.25,"u":-0.58,"v":-2.416,"d":-44.3},{"x":-0.5,"y":-2.25,"u":-0.33,"v":-2.416,"d":-44.4},{"x":-0.25,"y":-2.25,"u":-0.08,"v":-2.417,"d":-44.4},{"x":0,"y":-2.25,"u":0.17,"v":-2.417,"d":-44.5},{"x":0.25,"y":-2.25,"u":0.42,"v":-2.417,"d":-44.4},{"x":0.5,"y":-2.25,"u":0.67,"v":-2.416,"d":-44.4},{"x":0.75,"y":-2.25,"u":0.92,"v":-2.416,"d":-44.3},{"x":1,"y":-2.25,"u":1.17,"v":-2.415,"d":-44.2},{"x":1.25,"y":-2.25,"u":1.42,"v":-2.413,"d":-43.9},{"x":1.5,"y":-2.25,"u":1.67,"v":-2.41,"d":-43.3},{"x":1.75,"y":-2.25,"u":1.92,"v":-2.402,"d":-41.8},{"x":2,"y":-2.25,"u":2.17,"v":-2.374,"d":-36.1},{"x":2.25,"y":-2.25,"u":2.42,"v":-2.25,"d":0},{"x":2.5,"y":-2.25,"u":2.67,"v":-2.12,"d":37.4},{"x":2.75,"y":-2.25,"u":2.92,"v":-2.092,"d":42.9},{"x":3,"y":-2.25,"u":3.17,"v":-2.085,"d":44.1},
{"x":-3,"y":-2.5,"u":-2.83,"v":-2.34,"d":43.2},{"x":-2.75,"y":-2.5,"u":-2.58,"v":-2.365,"d":38.5},{"x":-2.5,"y":-2.5,"u":-2.33,"v":-2.5,"d":0},{"x":-2.25,"y":-2.5,"u":-2.08,"v":-2.63,"d":-37.4},{"x":-2,"y":-2.5,"u":-1.83,"v":-2.655,"d":-42.4},{"x":-1.75,"y":-2.5,"u":-1.58,"v":-2.662,"d":-43.7},{"x":-1.5,"y":-2.5,"u":-1.33,"v":-2.665,"d":-44.1},{"x":-1.25,"y":-2.5,"u":-1.08,"v":-2.666,"d":-44.4},{"x":-1,"y":-2.5,"u":-0.83,"v":-2.667,"d":-44.5},{"x":-0.75,"y":-2.5,"u":-0.58,"v":-2.667,"d":-44.6},{"x":-0.5,"y":-2.5,"u":-0.33,"v":-2.668,"d":-44.6},{"x":-0.25,"y":-2.5,"u":-0.08,"v":-2.668,"d":-44.6},{"x":0,"y":-2.5,"u":0.17,"v":-2.668,"d":-44.6},{"x":0.25,"y":-2.5,"u":0.42,"v":-2.668,"d":-44.6},{"x":0.5,"y":-2.5,"u":0.67,"v":-2.668,"d":-44.6},{"x":0.75,"y":-2.5,"u":0.92,"v":-2.667,"d":-44.6},{"x":1,"y":-2.5,"u":1.17,"v":-2.667,"d":-44.5},{"x":1.25,"y":-2.5,"u":1.42,"v":-2.666,"d":-44.4},{"x":1.5,"y":-2.5,"u":1.67,"v":-2.665,"d":-44.1},{"x":1.75,"y":-2.5,"u":1.92,"v":-2.662,"d":-43.7},{"x":2,"y":-2.5,"u":2.17,"v":-2.655,"d":-42.4},{"x":2.25,"y":-2.5,"u":2.42,"v":-2.63,"d":-37.4},{"x":2.5,"y":-2.5,"u":2.67,"v":-2.5,"d":0},{"x":2.75,"y":-2.5,"u":2.92,"v":-2.365,"d":38.5},{"x":3,"y":-2.5,"u":3.17,"v":-2.34,"d":43.2},
{"x":-3,"y":-2.75,"u":-2.83,"v":-2.61,"d":39.4},{"x":-2.75,"y":-2.75,"u":-2.58,"v":-2.75,"d":0},{"x":-2.5,"y":-2.75,"u":-2.33,"v":-2.885,"d":-38.5},{"x":-2.25,"y":-2.75,"u":-2.08,"v":-2.908,"d":-42.9},{"x":-2,"y":-2.75,"u":-1.83,"v":-2.914,"d":-43.9},{"x":-1.75,"y":-2.75,"u":-1.58,"v":-2.916,"d":-44.3},{"x":-1.5,"y":-2.75,"u":-1.33,"v":-2.917,"d":-44.5},{"x":-1.25,"y":-2.75,"u":-1.08,"v":-2.918,"d":-44.6},{"x":-1,"y":-2.75,"u":-0.83,"v":-2.918,"d":-44.7},{"x":-0.75,"y":-2.75,"u":-0.58,"v":-2.918,"d":-44.7},{"x":-0.5,"y":-2.75,"u":-0.33,"v":-2.918,"d":-44.7},{"x":-0.25,"y":-2.75,"u":-0.08,"v":-2.919,"d":-44.7},{"x":0,"y":-2.75,"u":0.17,"v":-2.919,"d":-44.8},{"x":0.25,"y":-2.75,"u":0.42,"v":-2.919,"d":-44.7},{"x":0.5,"y":-2.75,"u":0.67,"v":-2.918,"d":-44.7},{"x":0.75,"y":-2.75,"u":0.92,"v":-2.918,"d":-44.7},{"x":1,"y":-2.75,"u":1.17,"v":-2.918,"d":-44.7},{"x":1.25,"y":-2.75,"u":1.42,"v":-2.918,"d":-44.6},{"x":1.5,"y":-2.75,"u":1.67,"v":-2.917,"d":-44.5},{"x":1.75,"y":-2.75,"u":1.92,"v":-2.916,"d":-44.3},{"x":2,"y":-2.75,"u":2.17,"v":-2.914,"d":-43.9},{"x":2.25,"y":-2.75,"u":2.42,"v":-2.908,"d":-42.9},{"x":2.5,"y":-2.75,"u":2.67,"v":-2.885,"d":-38.5},{"x":2.75,"y":-2.75,"u":2.92,"v":-2.75,"d":0},{"x":3,"y":-2.75,"u":3.17,"v":-2.61,"d":39.4},
{"x":-3,"y":-3,"u":-2.83,"v":-3,"d":0},{"x":-2.75,"y":-3,"u":-2.58,"v":-3.14,"d":-39.4},{"x":-2.5,"y":-3,"u":-2.33,"v":-3.16,"d":-43.2},{"x":-2.25,"y":-3,"u":-2.08,"v":-3.165,"d":-44.1},{"x":-2,"y":-3,"u":-1.83,"v":-3.167,"d":-44.4},{"x":-1.75,"y":-3,"u":-1.58,"v":-3.168,"d":-44.6},{"x":-1.5,"y":-3,"u":-1.33,"v":-3.168,"d":-44.7},{"x":-1.25,"y":-3,"u":-1.08,"v":-3.168,"d":-44.7},{"x":-1,"y":-3,"u":-0.83,"v":-3.169,"d":-44.8},{"x":-0.75,"y":-3,"u":-0.58,"v":-3.169,"d":-44.8},{"x":-0.5,"y":-3,"u":-0.33,"v":-3.169,"d":-44.8},{"x":-0.25,"y":-3,"u":-0.08,"v":-3.169,"d":-44.8},{"x":0,"y":-3,"u":0.17,"v":-3.169,"d":-44.8},{"x":0.25,"y":-3,"u":0.42,"v":-3.169,"d":-44.8},{"x":0.5,"y":-3,"u":0.67,"v":-3.169,"d":-44.8},{"x":0.75,"y":-3,"u":0.92,"v":-3.169,"d":-44.8},{"x":1,"y":-3,"u":1.17,"v":-3.169,"d":-44.8},{"x":1.25,"y":-3,"u":1.42,"v":-3.168,"d":-44.7},{"x":1.5,"y":-3,"u":1.67,"v":-3.168,"d":-44.7},{"x":1.75,"y":-3,"u":1.92,"v":-3.168,"d":-44.6},{"x":2,"y":-3,"u":2.17,"v":-3.167,"d":-44.4},{"x":2.25,"y":-3,"u":2.42,"v":-3.165,"d":-44.1},{"x":2.5,"y":-3,"u":2.67,"v":-3.16,"d":-43.2},{"x":2.75,"y":-3,"u":2.92,"v":-3.14,"d":-39.4},{"x":3,"y":-3,"u":3.17,"v":-3,"d":0}
]},
"layer":[
{"data":{"values":[{}]},"mark":{"type":"rule","color":"#00ff00","strokeWidth":2.5,"strokeDash":[50,18]},
"encoding":{"x":{"datum":-3,"type":"quantitative","scale":{"domain":[-3,3],"nice":false,"zero":false},"title":"x","axis":{"values":[-3,-2,-1,0,1,2,3],"labelExpr":"datum.value < 0 ? '-' + abs(datum.value) : '' + datum.value"}},"x2":{"datum":3},"y":{"datum":0,"type":"quantitative","scale":{"domain":[-3,3],"nice":false,"zero":false},"title":"y","axis":{"values":[-3,-2,-1,0,1,2,3],"labelExpr":"datum.value < 0 ? '-' + abs(datum.value) : '' + datum.value"}}}},
{"data":{"values":[{}]},"mark":{"type":"rule","color":"#00ff00","strokeWidth":2.5,"strokeDash":[50,18]},
"encoding":{"x":{"datum":0,"type":"quantitative","scale":{"domain":[-3,3],"nice":false,"zero":false},"title":"x"},"y":{"datum":-3,"type":"quantitative","scale":{"domain":[-3,3],"nice":false,"zero":false},"title":"y"},"y2":{"datum":3}}},
{"mark":{"type":"rule","color":"#0000ff","strokeWidth":1.5,"clip":true,"strokeCap":"round"},
"encoding":{"x":{"field":"x","type":"quantitative","scale":{"domain":[-3,3],"nice":false,"zero":false},"title":"x"},"x2":{"field":"u"},"y":{"field":"y","type":"quantitative","scale":{"domain":[-3,3],"nice":false,"zero":false},"title":"y"},"y2":{"field":"v"}}},
{"mark":{"type":"point","shape":"M0,0L-0.5,1.2L0,1.05L0.5,1.2Z","filled":true,"color":"#0000ff","opacity":1,"size":260,"clip":true},
"encoding":{"x":{"field":"u","type":"quantitative","scale":{"domain":[-3,3],"nice":false,"zero":false},"title":"x"},"y":{"field":"v","type":"quantitative","scale":{"domain":[-3,3],"nice":false,"zero":false},"title":"y"},"angle":{"field":"d","type":"quantitative","scale":{"domain":[-90,90],"range":[180,0]}}}}
]
}
